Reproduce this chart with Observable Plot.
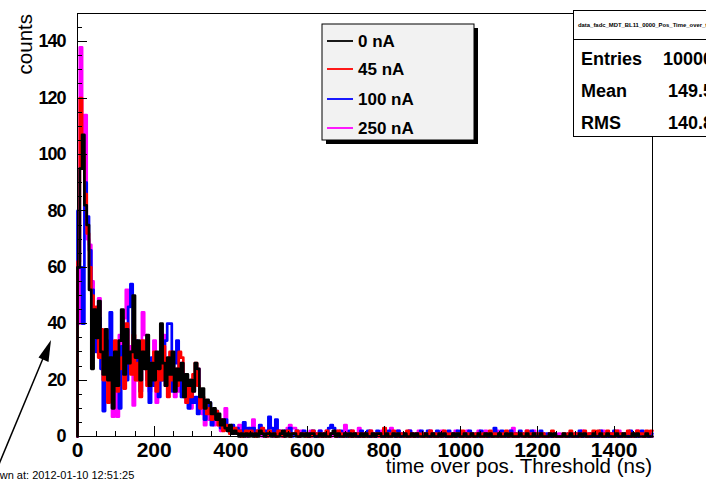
<!DOCTYPE html>
<html><head><meta charset="utf-8">
<script src="https://cdn.jsdelivr.net/npm/d3@7"></script>
<script src="https://cdn.jsdelivr.net/npm/@observablehq/plot@0.6"></script>
<style>
html,body{margin:0;padding:0;background:#fff;overflow:hidden;}
#chart svg{display:block;overflow:hidden;}
</style></head><body><div id="chart"></div>
<script>
// ---- data ----
const binWidth = 6; // ns per bin
const seriesNames = ["0 nA", "45 nA", "100 nA", "250 nA"];
const seriesColors = ["#000000", "#ff0000", "#0000ff", "#ff00ff"];
const xTicks = [0, 200, 400, 600, 800, 1000, 1200, 1400];
const yTicks = [0, 20, 40, 60, 80, 100, 120, 140];
const xTitle = "time over pos. Threshold (ns)";
const yTitle = "counts";
const statsTitle = "data_fadc_MDT_BL11_0000_Pos_Time_over_threshold";
const statsLabels = ["Entries", "Mean", "RMS"];
const statsValues = ["10000", "149.5", "140.8"];
const drawnAt = "Drawn at: 2012-01-10 12:51:25";

const counts0nA = [
  60,95,107,82,75, 52,24,45,35,48, 30,22,38,20,28, 10,30,18,34,45,
  22,38,26,30,50, 28,34,20,30,24, 36,18,26,20,30, 24,40,26,18,28,
  22,30,16,24,20, 26,14,22,18,20, 16,26,24,14,17, 10,13,12,8,10,
  6,8,4,6,3, 2,4,1,2,1, 0,1,0,1,0,
  1,0,1,0,2, 1,0,1,1,0, 1,0,0,1,2, 0,1,0,1,1, 0,0,1,0,1,
  0,1,1,0,0, 1,0,1,0,0, 1,2,0,1,0, 0,1,0,1,0, 1,0,0,1,0,
  1,0,0,1,0, 1,1,0,0,1, 0,0,1,0,1, 0,0,1,0,0, 1,0,1,0,0,
  0,1,0,0,1, 0,0,1,0,1, 0,0,0,1,0, 1,0,0,1,0, 0,1,0,0,1,
  0,0,1,0,1, 0,0,0,1,0, 0,1,0,1,0, 0,0,1,0,0, 1,0,0,1,0,
  0,1,0,0,0, 1,0,1,0,0, 0,1,0,0,1, 0,0,0,1,0, 1,0,0,0,1,
  0,0,1,0,0, 1,0,0,0,1, 0,0,1,0,0, 0,1,0,1,0, 0,0,1,0,0
];
const counts45nA = [
  62,120,100,86,72, 60,50,40,46,28, 38,20,30,12,22, 26,34,16,24,28,
  17,40,30,22,36, 20,26,14,34,28, 18,26,22,30,16, 26,20,32,24,14,
  30,20,24,18,30, 28,18,12,20,14, 22,26,18,10,14, 12,8,10,6,8,
  9,4,6,2,4, 3,1,2,3,1, 2,0,1,2,1,
  2,1,0,2,1, 3,1,0,2,1, 1,0,2,1,0, 1,2,0,1,1, 2,0,1,1,0,
  1,0,2,1,1, 0,1,0,2,0, 1,1,0,2,1, 0,1,1,0,2, 0,1,1,0,1,
  0,1,2,0,1, 1,0,1,3,0, 1,0,2,1,0, 1,1,0,2,0, 1,0,1,1,0,
  1,0,1,2,0, 1,0,1,0,2, 1,0,1,0,1, 1,0,2,0,1, 0,1,0,1,1,
  0,1,0,1,2, 0,1,0,1,0, 1,2,0,1,0, 1,0,1,1,0, 2,0,1,0,1,
  1,0,1,0,0, 1,2,0,0,0, 0,1,0,1,2, 0,1,1,0,1, 2,0,1,1,2,
  1,2,1,0,1, 2,1,1,0,2, 1,1,0,1,2, 1,0,1,2,1, 1,0,2,1,2
];
const counts100nA = [
  80,60,40,90,78, 66,52,38,30,42, 24,9,34,28,44, 18,22,30,10,32,
  26,20,46,54,28, 34,22,16,26,30, 20,12,28,18,24, 14,30,20,34,40,
  40,16,26,34,20, 14,22,16,10,20, 12,14,8,16,12, 6,10,12,4,8,
  9,6,3,5,6, 2,3,4,1,3, 1,2,5,2,3,
  2,3,1,2,4, 1,2,0,7,3, 1,6,2,1,0, 2,1,3,0,1, 2,0,1,2,1,
  1,0,2,0,1, 2,1,0,1,3, 4,3,1,0,2, 1,0,1,2,0, 1,1,0,2,0,
  1,2,0,1,0, 2,1,0,1,0, 2,1,1,0,2, 0,1,1,0,2, 1,0,0,1,2,
  0,1,2,0,1, 0,2,0,1,1, 0,2,0,1,0, 2,1,0,1,0, 2,1,0,1,0,
  2,1,0,1,0, 0,3,1,0,2, 1,0,1,2,0, 1,0,2,1,0, 1,0,2,0,1,
  0,2,1,0,1, 0,0,1,0,0, 0,0,0,1,0, 0,1,0,2,0, 1,0,0,1,0,
  1,0,2,0,1, 0,1,0,2,1, 0,1,0,1,0, 2,0,1,0,1, 2,0,1,0,1
];
const counts250nA = [
  40,138,95,114,70, 68,55,44,38,49, 32,26,22,30,18, 7,26,7,36,22,
  42,52,24,32,11, 30,20,28,44,36, 24,16,20,34,12, 28,22,36,18,26,
  20,24,14,22,16, 26,20,12,18,10, 16,20,24,12,8, 4,10,6,8,4,
  6,4,2,4,10, 3,2,3,1,2, 4,1,2,0,1,
  3,6,2,1,3, 0,2,1,2,1, 0,2,1,2,0, 1,3,4,3,3, 1,0,2,1,1,
  0,2,1,1,0, 2,0,1,2,1, 0,1,2,0,1, 0,4,1,0,2, 1,0,3,0,1,
  1,0,2,0,1, 0,1,2,0,1, 0,3,1,0,2, 0,1,0,1,2, 0,1,0,2,1,
  0,1,0,2,0, 1,0,1,2,0, 1,0,1,0,2, 1,0,1,0,2, 0,1,0,1,2,
  1,0,2,0,1, 0,1,2,0,1, 0,1,0,2,3, 0,1,0,1,0, 2,0,1,2,0,
  1,0,1,0,0, 0,1,0,0,1, 0,0,0,0,1, 0,0,1,0,2, 0,0,1,0,0,
  0,1,0,2,0, 0,1,0,1,0, 2,0,0,1,0, 0,1,0,2,0, 1,0,0,1,0
];
const seriesCounts = [counts0nA, counts45nA, counts100nA, counts250nA];

// step-line rows for each series
function stepRows(counts) {
  const rows = [{x: 0, y: 0}];
  counts.forEach((v, i) => rows.push({x: i * binWidth, y: v}));
  rows.push({x: counts.length * binWidth, y: counts[counts.length - 1]});
  return rows;
}
const drawOrder = [3, 2, 1, 0]; // black drawn last (on top)

const font = "'Liberation Sans', Arial, Helvetica, sans-serif";
const W = 706, H = 482;

const chart = Plot.plot({
  width: W, height: H,
  marginLeft: 77, marginRight: 54, marginTop: 13, marginBottom: 46,
  style: {fontFamily: font, background: "#ffffff", color: "#000"},
  x: {domain: [0, 1500]},
  y: {domain: [0, 150]},
  marks: [
    ...drawOrder.map(s => Plot.line(stepRows(seriesCounts[s]), {
      x: "x", y: "y", curve: "step-after",
      stroke: seriesColors[s], strokeWidth: 2.7
    })),
    Plot.frame({stroke: "#000", strokeWidth: 1}),
    Plot.axisX({ticks: xTicks, tickSize: 0, tickPadding: 6, fontSize: 21, fontWeight: "bold", label: null, tickFormat: d => String(d)}),
    Plot.axisY({ticks: yTicks, tickSize: 0, tickPadding: 12, fontSize: 18, fontWeight: "bold", label: null, tickFormat: d => String(d)})
  ]
});
document.getElementById("chart").appendChild(chart);

const sx = chart.scale("x"), sy = chart.scale("y");
const svg = d3.select(chart);
const x0 = sx.apply(0), x1 = sx.apply(1500), yB = sy.apply(0), yT = sy.apply(150);

svg.selectAll('[aria-label="y-axis tick label"] text').attr("letter-spacing", "-1");

// inward ticks
const tg = svg.append("g").attr("stroke", "#000").attr("stroke-width", 1);
for (let v = 0; v <= 1500; v += 50) {
  const len = v % 200 === 0 ? 10 : 5;
  const px = Math.round(sx.apply(v)) + 0.5;
  tg.append("line").attr("x1", px).attr("x2", px).attr("y1", yB).attr("y2", yB - len);
}
for (let v = 0; v <= 150; v += 5) {
  const len = v % 20 === 0 ? 10 : 5;
  const py = Math.round(sy.apply(v)) + 0.5;
  tg.append("line").attr("x1", x0).attr("x2", x0 + len).attr("y1", py).attr("y2", py);
}

function txt(g, x, y, s, size, weight, anchor) {
  return g.append("text").attr("x", x).attr("y", y).attr("text-anchor", anchor || "start")
    .attr("font-family", font).attr("font-size", size).attr("font-weight", weight || "normal")
    .attr("fill", "#000").text(s);
}

// axis titles
txt(svg, x1, 473, xTitle, 20.5, "normal", "end");
svg.append("text").attr("transform", "translate(32,14) rotate(-90)").attr("text-anchor", "end")
  .attr("font-family", font).attr("font-size", 20.5).attr("fill", "#000").text(yTitle);

// legend
const lg = svg.append("g");
lg.append("rect").attr("x", 326).attr("y", 28).attr("width", 152).attr("height", 116).attr("fill", "#000");
lg.append("rect").attr("x", 322).attr("y", 24).attr("width", 152).attr("height", 116)
  .attr("fill", "#f2f2f2").attr("stroke", "#000").attr("stroke-width", 1);
const legY = [41, 69, 99, 128];
seriesNames.forEach((name, i) => {
  lg.append("line").attr("x1", 327).attr("x2", 353).attr("y1", legY[i]).attr("y2", legY[i])
    .attr("stroke", seriesColors[i]).attr("stroke-width", 1.8);
  txt(lg, 358, legY[i] + 6, name, 17, "bold");
});

// stats box
const sg = svg.append("g");
sg.append("rect").attr("x", 573.5).attr("y", 10.5).attr("width", 150).attr("height", 126)
  .attr("fill", "#fff").attr("stroke", "#000").attr("stroke-width", 1);
sg.append("line").attr("x1", 573.5).attr("x2", 720).attr("y1", 39.5).attr("y2", 39.5).attr("stroke", "#000");
txt(sg, 578, 27, statsTitle, 5.9, "bold");
const statY = [58, 90, 122];
statsLabels.forEach((lab, i) => {
  txt(sg, 581, statY[i] + 7, lab, 18, "bold");
  txt(sg, 713, statY[i] + 7, statsValues[i], 18, "bold", "end");
});

// arrow annotation
const ag = svg.append("g");
ag.append("line").attr("x1", -8).attr("y1", 481).attr("x2", 44).attr("y2", 356)
  .attr("stroke", "#000").attr("stroke-width", 1.5);
ag.append("path").attr("d", "M51,340 L48.5,362 L38.5,357.5 Z").attr("fill", "#000");

// drawn-at text
txt(svg, -18, 479, drawnAt, 11, "normal");
</script></body></html>
